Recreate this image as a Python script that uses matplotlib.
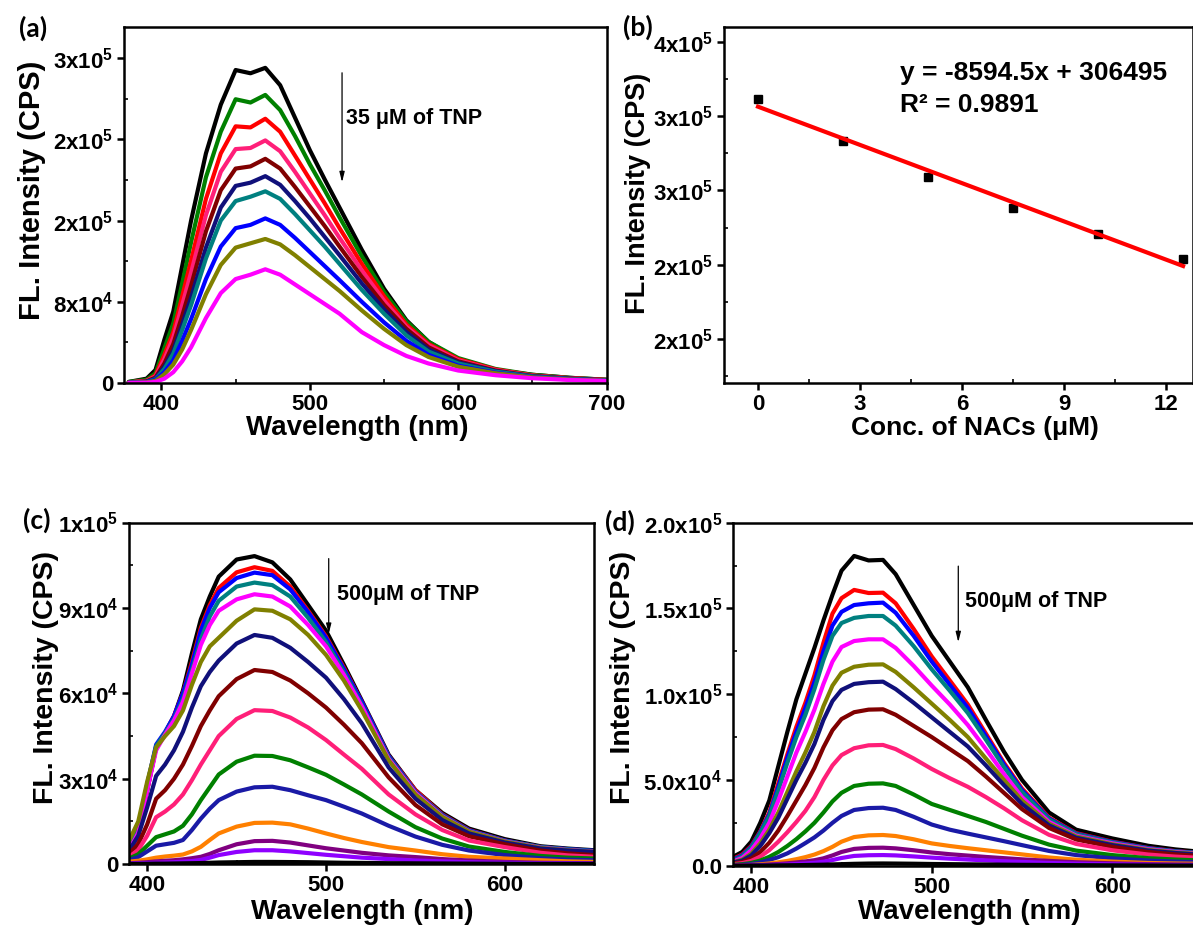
import matplotlib
matplotlib.use("Agg")
import matplotlib.pyplot as plt
import numpy as np
from matplotlib.ticker import MultipleLocator

# ---------------- data (intensities in 10^3 CPS) ----------------
# (a) emission spectra, 35 uM TNP titration
wl_a = [378, 390, 396, 402, 408, 414, 420, 430, 440, 450, 460, 470, 480,
        490, 500, 510, 520, 535, 550, 565, 580, 600, 625, 650, 675, 700]
a_black = [1, 4, 12, 40, 66, 108, 150, 212, 257, 289, 286, 291, 275, 245, 215, 188, 162, 123, 87, 58, 38, 21.5, 12, 7.6, 4.8, 3]
a_green = [1, 3, 9, 32, 55, 92, 130, 190, 232, 262, 259, 266, 252, 228, 202, 178, 153, 117, 84, 57, 38, 23, 13, 7.6, 4.8, 3]
a_red = [0.5, 2, 7, 26, 47, 80, 113, 170, 212, 237, 236, 244, 232, 210, 188, 166, 143, 110, 80, 54, 36, 22, 12.5, 7, 4.5, 2.8]
a_pink = [0.5, 2, 6, 22, 42, 72, 102, 155, 195, 216, 217, 224, 214, 195, 175, 155, 134, 104, 76, 52, 35, 21, 12, 6.8, 4.3, 2.6]
a_wine = [0.3, 1.5, 5, 18, 36, 62, 90, 140, 178, 198, 200, 207, 198, 181, 163, 145, 126, 98, 72, 50, 33, 20, 11.5, 6.5, 4.2, 2.5]
a_navy = [0.3, 1.2, 4, 15, 30, 54, 79, 125, 162, 182, 185, 191, 183, 168, 152, 135, 118, 92, 68, 47, 31, 19, 11, 6.2, 4, 2.4]
a_teal = [0.2, 1, 3.5, 13, 27, 49, 72, 115, 150, 168, 172, 177, 170, 156, 141, 126, 110, 86, 64, 44, 29, 18, 10.5, 6, 3.8, 2.3]
a_blue = [0.2, 0.8, 3, 10, 21, 39, 59, 96, 126, 143, 146, 152, 146, 134, 121, 108, 95, 75, 56, 39, 26, 16, 9.5, 5.5, 3.5, 2.1]
a_olive = [0.1, 0.6, 2, 8, 17, 31, 49, 82, 109, 125, 129, 133, 128, 118, 107, 96, 85, 67, 50, 35, 24, 15, 9, 5.2, 3.3, 2]
a_magenta = [0.1, 0.3, 1, 4, 10, 20, 33, 60, 83, 96, 100, 105, 100, 91, 82, 73, 64, 47, 35, 25, 18, 11.5, 7.2, 4.4, 2.8, 1.8]

# (b) linear quenching plot
conc = [0, 2.5, 5, 7.5, 10, 12.5]
intensity_b = [311900, 283400, 258800, 238100, 220700, 203800]
fit_slope = -8594.5
fit_intercept = 306495
fit_r2 = 0.9891

# (c) emission spectra, 500 uM TNP titration
wl_c = [390, 395, 400, 405, 410, 415, 420, 425, 430, 435, 440, 450, 460, 470,
        480, 490, 500, 510, 520, 535, 550, 565, 580, 600, 620, 635, 650]
c_black = [7, 14, 26, 41, 46, 52, 61, 74, 86, 94, 101, 107, 108.2, 106, 100, 91, 82, 70, 57.5, 38.5, 26, 18, 12.5, 8.8, 6.3, 5.5, 4.9]
c_red = [3, 10, 26, 41, 46, 52, 60, 71, 83, 91, 97, 102.5, 104.3, 103, 97.5, 89, 80, 69, 57, 38, 26, 17.5, 12, 8.3, 6, 5.2, 4.6]
c_blue = [5, 12, 28, 42, 46.5, 52, 60, 70, 82, 90, 95.5, 100.5, 102.4, 101.5, 96.5, 88.5, 79.5, 68.5, 57, 38, 25.5, 17.3, 11.9, 8.3, 6, 5.3, 4.7]
c_teal = [6, 13, 28, 41.5, 46, 51, 58, 68, 79, 87, 92.5, 97.5, 98.9, 98, 94, 86.5, 78, 67.5, 56, 37.5, 25.3, 17.1, 11.7, 8.2, 6, 5.2, 4.6]
c_magenta = [5, 11, 26, 40, 45.5, 50.5, 57, 67, 77, 84, 89, 93, 94.8, 94, 90.5, 84, 76.5, 66.5, 55.5, 37, 25, 16.8, 11.5, 8, 5.8, 5, 4.4]
c_olive = [8.4, 15, 29, 41, 45, 48.5, 54, 63, 71, 76.5, 79.5, 85.5, 89.5, 89, 86, 80.5, 73.5, 64.5, 54, 36.5, 24.5, 16.6, 11.4, 7.9, 5.7, 4.9, 4.3]
c_navy = [4.9, 10, 20, 31, 35, 40, 46.5, 55, 62.5, 67.5, 71.5, 77.5, 80.5, 79.5, 76, 71, 65.5, 58, 49.5, 34, 23, 15.5, 10.8, 7.6, 5.5, 4.8, 4.3]
c_wine = [3.8, 7, 14, 23, 26, 30, 35, 41.5, 48.5, 54, 59, 65, 68.2, 67.5, 64.5, 60, 55, 49, 42.5, 30.5, 20.8, 14, 9.8, 7, 4.8, 3.8, 3.2]
c_pink = [2.6, 5, 10, 16.5, 18.5, 21, 24.5, 29.5, 35, 40, 45, 51, 54.1, 53.8, 51.5, 48, 43.6, 38.5, 33.5, 24.5, 17.5, 12, 8.3, 6, 4, 3.1, 2.6]
c_green = [2, 3.5, 6.5, 9.5, 10.5, 11.5, 13.5, 17.5, 22.5, 27, 31.5, 36, 38.1, 38, 36.5, 34, 31.4, 28, 24.5, 18.5, 13, 9, 6.2, 4.3, 2.9, 2.3, 2]
c_royal = [1.5, 2.5, 4.5, 6.5, 7, 7.5, 8.5, 12, 16, 19.5, 22.5, 25.5, 27, 27.2, 26, 24.2, 22.5, 20.2, 17.8, 13.5, 9.7, 6.8, 4.8, 3.2, 2.1, 1.6, 1.4]
c_orange = [0.9, 1.2, 1.7, 2.3, 2.7, 3, 3.4, 4.5, 6.1, 8.5, 10.8, 13.2, 14.5, 14.6, 14, 12.5, 10.8, 9.2, 7.8, 6, 4.8, 3.5, 2.6, 2, 1.4, 1, 0.8]
c_purple = [0.35, 0.5, 0.7, 1, 1.2, 1.4, 1.7, 2.1, 2.6, 3.6, 4.9, 7, 8.1, 8.2, 7.6, 6.6, 5.6, 4.8, 4, 3.1, 2.5, 1.8, 1.3, 0.8, 0.5, 0.4, 0.3]
c_violet = [0.2, 0.3, 0.4, 0.5, 0.6, 0.7, 0.9, 1.1, 1.5, 2.3, 3.2, 4.3, 4.9, 4.9, 4.5, 3.9, 3.3, 2.8, 2.3, 1.8, 1.3, 1, 0.7, 0.5, 0.3, 0.3, 0.2]
c_base = [0.1, 0.1, 0.15, 0.2, 0.2, 0.25, 0.3, 0.35, 0.4, 0.5, 0.6, 0.7, 0.8, 0.8, 0.75, 0.7, 0.6, 0.5, 0.45, 0.35, 0.3, 0.25, 0.2, 0.15, 0.1, 0.1, 0.1]

# (d) emission spectra, 500 uM TNP titration (second probe)
wl_d = [390, 395, 400, 405, 410, 415, 420, 425, 430, 435, 440, 445, 450, 457, 465,
        473, 480, 490, 500, 510, 520, 530, 540, 550, 565, 580, 600, 620, 635, 650]
d_black = [5.2, 8, 14, 25, 38, 58, 78, 97, 112, 127, 143, 158, 172, 180.6, 178, 178.3, 170, 152, 134, 119, 104, 85, 66.5, 50, 31, 21, 15.9, 11.6, 9.5, 8]
d_red = [4, 6.5, 11.5, 20, 31, 48, 65, 81, 95, 111, 130, 147, 156, 160.8, 159, 159.2, 153, 138, 122, 108, 94, 77, 60, 45, 28, 19, 14, 10.3, 8.5, 7.3]
d_blue = [3.5, 6, 11, 19.5, 30, 46, 63, 78, 92, 107, 125, 140, 148, 152, 153, 153.4, 147.5, 134, 119, 105.5, 92, 75.5, 59, 44, 27.5, 18.7, 13.8, 10.2, 8.4, 7.2]
d_teal = [3, 5.5, 10.5, 19, 29, 44, 60, 75, 88, 103, 120, 134, 141.5, 144.5, 145.6, 145.6, 140, 128, 114.5, 102, 89, 73.5, 57.5, 43, 27, 18.4, 13.5, 10, 8.3, 7.1]
d_magenta = [2.5, 4.5, 9, 16, 25, 38, 52, 66, 78, 91, 106, 119, 127.5, 131, 132, 132, 127, 116.5, 105, 94, 82, 68, 53.5, 40, 25.5, 17.5, 13, 9.6, 8, 6.8]
d_olive = [2, 3.5, 7, 13, 21, 31, 43, 55, 66, 78, 93, 105, 112.5, 116, 117.2, 117.4, 113, 104, 94.5, 85, 75, 62.5, 50, 38, 24.5, 17, 12.5, 9.2, 7.7, 6.6]
d_navy = [1.8, 3, 6, 11.5, 19, 28, 39, 50, 60, 71, 85, 96, 102.5, 106, 107, 107.3, 103, 95, 86.5, 78, 69.5, 58.5, 47, 36, 23.5, 16.3, 12, 8.8, 7.4, 6.3]
d_wine = [1.3, 2.2, 4.2, 8, 13.4, 20.5, 29, 38, 47, 57, 69, 79, 85.5, 89.5, 91, 91.2, 88, 81.5, 75, 68, 61, 52, 42.5, 33, 22, 15.3, 11, 8, 6.6, 5.6]
d_pink = [0.9, 1.5, 2.8, 5.3, 9.1, 14, 19.5, 25.5, 32, 40, 50, 58.5, 64.5, 68.5, 70.2, 70.4, 68, 62.5, 56.4, 51, 46, 40, 33.5, 26.5, 18, 12.7, 9, 6.5, 5.3, 4.5]
d_green = [0.5, 0.9, 1.6, 3, 5.2, 8, 11.5, 15.5, 20, 25, 31, 37.5, 42.5, 46.5, 47.8, 48, 46.5, 41.5, 36, 32.5, 29, 25.5, 21.5, 17.5, 12.3, 8.8, 6.2, 4.4, 3.6, 3]
d_royal = [0.3, 0.5, 1, 1.9, 3.3, 5, 7.2, 10, 13.2, 16.5, 20.5, 25, 29, 32.5, 33.6, 33.8, 32.5, 28.5, 24, 21, 18.7, 16.5, 14.3, 12, 8.6, 6.2, 4.3, 3, 2.4, 2]
d_orange = [0.15, 0.25, 0.45, 0.8, 1.3, 2, 2.8, 3.8, 5, 6.5, 8.5, 11, 14, 16.7, 17.7, 17.9, 17.3, 15.4, 13, 11.5, 10.2, 9, 7.8, 6.6, 4.8, 3.5, 2.4, 1.6, 1.3, 1.1]
d_purple = [0.1, 0.15, 0.25, 0.4, 0.7, 1, 1.4, 1.9, 2.5, 3.2, 4.3, 6, 8, 9.8, 10.4, 10.5, 10.1, 9, 7.7, 6.7, 5.9, 5.1, 4.4, 3.7, 2.8, 2, 1.4, 0.9, 0.7, 0.6]
d_violet = [0.05, 0.08, 0.12, 0.2, 0.35, 0.5, 0.7, 1, 1.3, 1.7, 2.3, 3.3, 4.5, 5.7, 6.1, 6.2, 6, 5.4, 4.7, 4.1, 3.6, 3.1, 2.6, 2.2, 1.6, 1.2, 0.8, 0.5, 0.4, 0.35]
d_base = [0.05, 0.05, 0.08, 0.1, 0.15, 0.2, 0.25, 0.3, 0.4, 0.5, 0.6, 0.75, 0.9, 1.1, 1.25, 1.3, 1.25, 1.15, 1, 0.9, 0.8, 0.7, 0.6, 0.5, 0.4, 0.3, 0.2, 0.15, 0.1, 0.1]

# axis ticks and their labels
yticks_a = [0, 75000, 150000, 225000, 300000]
ylabels_a = ['0', '8x10$^{4}$', '2x10$^{5}$', '2x10$^{5}$', '3x10$^{5}$']
xticks_a = [400, 500, 600, 700]
yticks_b = [150000, 200000, 250000, 300000, 350000]
ylabels_b = ['2x10$^{5}$', '2x10$^{5}$', '3x10$^{5}$', '3x10$^{5}$', '4x10$^{5}$']
xticks_b = [0, 3, 6, 9, 12]
yticks_c = [0, 30000, 60000, 90000, 120000]
ylabels_c = ['0', '3x10$^{4}$', '6x10$^{4}$', '9x10$^{4}$', '1x10$^{5}$']
yticks_d = [0, 50000, 100000, 150000, 200000]
ylabels_d = ['0.0', '5.0x10$^{4}$', '1.0x10$^{5}$', '1.5x10$^{5}$', '2.0x10$^{5}$']
xticks_cd = [400, 500, 600]

# ---------------- styling ----------------
BLACK, GREEN, RED, PINK = '#000000', '#008000', '#FF0000', '#FF1F78'
WINE, NAVY, TEAL, BLUE = '#800000', '#10107A', '#008080', '#0000FF'
OLIVE, MAGENTA, ROYAL = '#808000', '#FF00FF', '#1A1AA6'
ORANGE, PURPLE, VIOLET = '#FF8000', '#800080', '#8F00FF'

plt.rcParams.update({
    'font.family': ['Liberation Sans', 'DejaVu Sans'],
    'font.weight': 'bold',
    'mathtext.fontset': 'custom',
    'mathtext.rm': 'Liberation Sans:bold',
    'mathtext.it': 'Liberation Sans:bold',
    'mathtext.bf': 'Liberation Sans:bold',
    'mathtext.default': 'rm',
    'axes.linewidth': 1.8,
})

W, H = 1193, 925
fig = plt.figure(figsize=(W / 100, H / 100), dpi=100)


def px_axes(left, top, right, bottom):
    return fig.add_axes([left / W, 1 - bottom / H, (right - left) / W, (bottom - top) / H])


def fig_text(x, y, s, **kw):
    fig.text(x / W, 1 - y / H, s, **kw)


def style(ax):
    ax.tick_params(which='major', direction='out', length=5, width=1.8,
                   labelsize=16, pad=3)
    ax.tick_params(which='minor', direction='in', length=3, width=1.2)


def spectra(ax, wl, curves):
    for vals, col in curves:
        ax.plot(wl, np.asarray(vals) * 1e3, color=col, lw=3.0,
                solid_joinstyle='round', solid_capstyle='round')


def arrow(ax, x, y_from, y_to):
    ax.annotate('', xy=(x, y_to), xytext=(x, y_from),
                arrowprops=dict(arrowstyle='-|>,head_width=0.15,head_length=0.6',
                                lw=0.9, color='black'))


# (a)
ax_a = px_axes(124.3, 26.7, 606.7, 383)
spectra(ax_a, wl_a, [(a_black, BLACK), (a_green, GREEN), (a_red, RED), (a_pink, PINK),
                     (a_wine, WINE), (a_navy, NAVY), (a_teal, TEAL), (a_blue, BLUE),
                     (a_olive, OLIVE), (a_magenta, MAGENTA)])
ax_a.set_xlim(375, 700)
ax_a.set_ylim(0, 329000)
ax_a.set_xticks(xticks_a)
ax_a.set_yticks(yticks_a, ylabels_a)
ax_a.xaxis.set_minor_locator(MultipleLocator(50))
ax_a.yaxis.set_minor_locator(MultipleLocator(37500))
style(ax_a)
arrow(ax_a, 521.7, 289000, 182800)
ax_a.text(524.5, 244600, '35 μM of TNP', fontsize=15.5, va='center', ha='left')

# (b)
ax_b = px_axes(724, 27.3, 1193.3, 383.3)
ax_b.plot(conc, intensity_b, 's', color='black', ms=6)
x_fit = np.array([conc[0], conc[-1]])
ax_b.plot(x_fit, fit_slope * x_fit + fit_intercept, color=RED, lw=3.0)
ax_b.set_xlim(-1.0, 12.8)
ax_b.set_ylim(120000, 360000)
ax_b.set_xticks(xticks_b)
ax_b.set_yticks(yticks_b, ylabels_b)
ax_b.xaxis.set_minor_locator(MultipleLocator(1.5))
ax_b.yaxis.set_minor_locator(MultipleLocator(25000))
style(ax_b)
ax_b.text(4.17, 329000, f'y = {fit_slope}x + {fit_intercept}', fontsize=19,
          va='center', ha='left')
ax_b.text(4.17, 307400, f'R² = {fit_r2}', fontsize=19, va='center', ha='left')

# (c)
ax_c = px_axes(129.3, 522.5, 594.3, 864.2)
spectra(ax_c, wl_c, [(c_black, BLACK), (c_red, RED), (c_blue, BLUE), (c_teal, TEAL),
                     (c_magenta, MAGENTA), (c_olive, OLIVE), (c_navy, NAVY),
                     (c_wine, WINE), (c_pink, PINK), (c_green, GREEN), (c_royal, ROYAL),
                     (c_orange, ORANGE), (c_purple, PURPLE), (c_violet, VIOLET),
                     (c_base, BLACK)])
ax_c.set_xlim(390, 650)
ax_c.set_ylim(0, 120000)
ax_c.set_xticks(xticks_cd)
ax_c.set_yticks(yticks_c, ylabels_c)
ax_c.xaxis.set_minor_locator(MultipleLocator(50))
ax_c.yaxis.set_minor_locator(MultipleLocator(15000))
style(ax_c)
arrow(ax_c, 501.5, 108300, 79900)
ax_c.text(506, 94600, '500μM of TNP', fontsize=15.5, va='center', ha='left')

# (d)
ax_d = px_axes(733.2, 522.7, 1202.5, 865.7)
spectra(ax_d, wl_d, [(d_black, BLACK), (d_red, RED), (d_blue, BLUE), (d_teal, TEAL),
                     (d_magenta, MAGENTA), (d_olive, OLIVE), (d_navy, NAVY),
                     (d_wine, WINE), (d_pink, PINK), (d_green, GREEN), (d_royal, ROYAL),
                     (d_orange, ORANGE), (d_purple, PURPLE), (d_violet, VIOLET),
                     (d_base, BLACK)])
ax_d.set_xlim(390, 650)
ax_d.set_ylim(0, 200000)
ax_d.set_xticks(xticks_cd)
ax_d.set_yticks(yticks_d, ylabels_d)
ax_d.xaxis.set_minor_locator(MultipleLocator(50))
ax_d.yaxis.set_minor_locator(MultipleLocator(25000))
style(ax_d)
arrow(ax_d, 514.7, 176300, 128700)
ax_d.text(518.3, 153900, '500μM of TNP', fontsize=15.5, va='center', ha='left')

# axis titles
ylab = 'FL. Intensity (CPS)'
fig_text(32.5, 190, ylab, rotation=90, fontsize=21, ha='center', va='center')
fig_text(638, 193, ylab, rotation=90, fontsize=19.5, ha='center', va='center')
fig_text(46, 677, ylab, rotation=90, fontsize=20.5, ha='center', va='center')
fig_text(623, 677, ylab, rotation=90, fontsize=20.5, ha='center', va='center')
fig_text(357, 428, 'Wavelength (nm)', fontsize=20, ha='center', va='center')
fig_text(975, 428, 'Conc. of NACs (μM)', fontsize=19, ha='center', va='center')
fig_text(362, 912, 'Wavelength (nm)', fontsize=20, ha='center', va='center')
fig_text(969, 912, 'Wavelength (nm)', fontsize=20, ha='center', va='center')

# panel letters
for (x, y, s) in [(33, 28, '(a)'), (638, 27, '(b)'), (37, 520, '(c)'), (620, 522, '(d)')]:
    fig_text(x, y, s, fontsize=19, ha='center', va='center',
             family=['Lato', 'DejaVu Sans'], fontweight='bold')

fig.savefig('out.png', dpi=100)
